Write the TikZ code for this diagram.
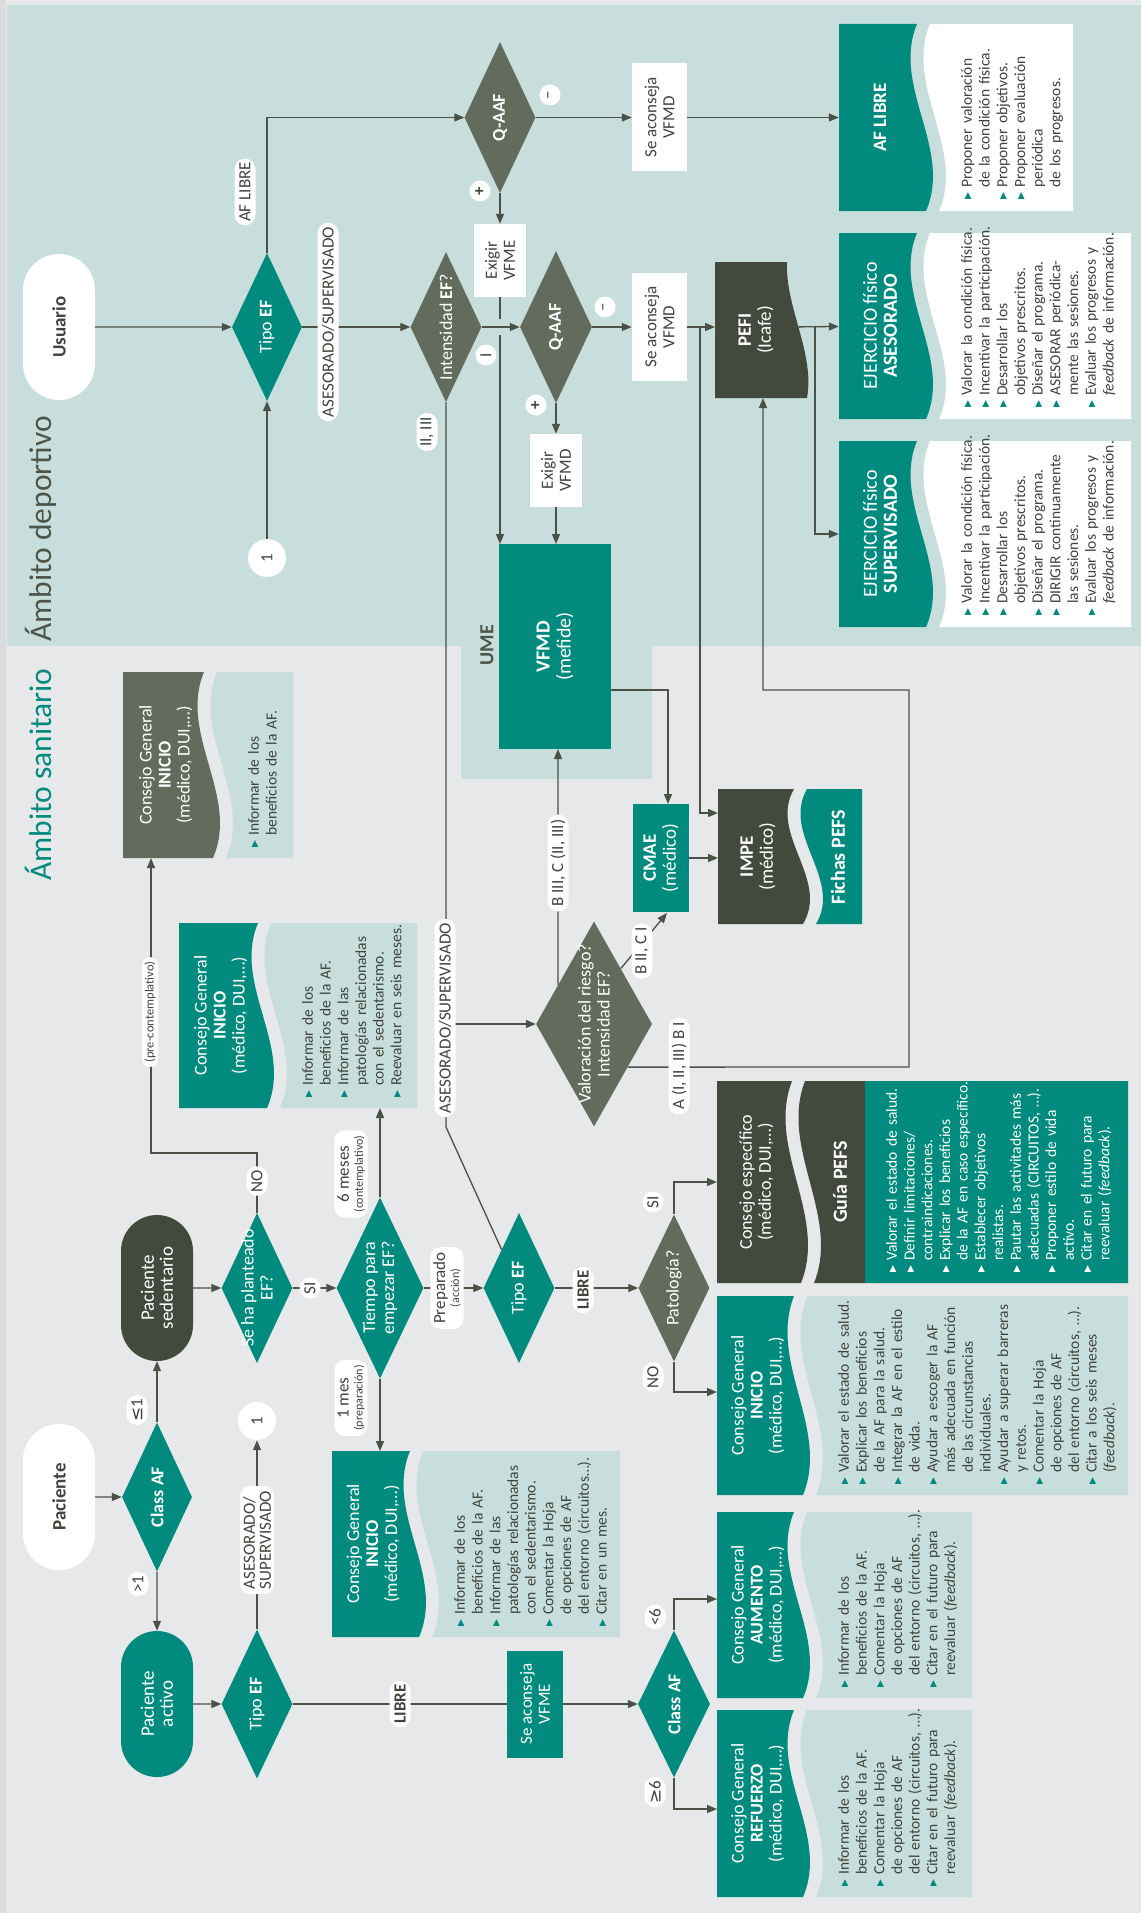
\documentclass[tikz,border=0pt]{standalone}
\usepackage{fontspec}
\setmainfont{Carlito}
\newfontfamily\symf{DejaVu Sans}
\usetikzlibrary{shapes.geometric,shapes.misc,arrows.meta,calc}
\definecolor{tealc}{HTML}{008B7E}
\definecolor{bgteal}{HTML}{C8DEDC}
\definecolor{bggray}{HTML}{E7E8EA}
\definecolor{edgegray}{HTML}{DADBDB}
\definecolor{dgreen}{HTML}{626B5C}
\definecolor{darkc}{HTML}{434A3D}
\definecolor{lnc}{HTML}{4B5146}
\definecolor{txt}{HTML}{3F453A}
\definecolor{titc}{HTML}{4D5448}
\newcommand\setfs[2]{\fontsize{#1}{#2}\selectfont}
\def\bulcol{tealc}
\newcommand\bulmark{\raisebox{1.5pt}{\textcolor{\bulcol}{\symf\fontsize{9}{9}\selectfont ▶}}}
\newcommand\bul[1]{\par\noindent\hangindent=12pt\hangafter=1\makebox[12pt][l]{\bulmark}#1\par}
\newcommand\br{\newline}
% name, x0, xw, ytop, ybot, fill, x1, bulletfill   (coordinates are (y,x) of the portrait page)
\newcommand\wavepair[8]{%
 \pgfmathsetmacro\wvh{#5-#4}%
 \pgfmathsetmacro\wvw{#3-#2}%
 \fill[#6] (#5,#2) -- (#4,#2) -- (#4,{#3-4}) .. controls ({#4+\wvh/3},{#3-30}) and ({#5-\wvh/3},{#3+32}) .. (#5,{#3+5}) -- cycle;
 \fill[#8] (#5,{#3+18}) .. controls ({#5-\wvh/3},{#3+45}) and ({#4+\wvh/3},{#3-17}) .. (#4,{#3+9}) -- (#4,#7) -- (#5,#7) -- cycle;
 \node[minimum width=\wvh pt, minimum height=\wvw pt] (#1) at ({(#4+#5)/2},{(#2+#3)/2}) {};
}
\begin{document}
\begin{tikzpicture}[x=-1pt,y=-1pt,rotate=90,transform shape,
 every node/.style={inner sep=0pt, align=center},
 arr/.style={draw=lnc, line width=1.3pt, -{Triangle[length=10pt,width=8pt]}},
 ln/.style={draw=lnc, line width=1.3pt},
 dia/.style={diamond, fill=#1},
 wtx/.style={text=white, font=\setfs{18}{19}},
 wbox/.style={rectangle, fill=white, text=txt, font=\setfs{17}{18}},
 tbox/.style={rectangle, fill=tealc, text=white, font=\setfs{17}{18}},
 lab/.style={rounded rectangle, fill=white, text=txt, inner xsep=2pt, minimum height=21pt, font=\setfs{17}{18}},
 labb/.style={rectangle, rounded corners=10pt, fill=white, text=txt, inner xsep=5pt, inner ysep=3pt, font=\setfs{17}{14}},
 btx/.style={text=txt, align=left, text width=400pt, anchor=north west, font=\setfs{15.5}{17.7}},
 pill/.style={rounded rectangle, minimum width=146pt, minimum height=72pt},
]
\useasboundingbox (0,0) rectangle (1913,1141);
% backgrounds
\fill[bggray] (0,0) rectangle (1913,1141);
\fill[edgegray] (0,0) rectangle (1913,6);
\fill[bgteal] (5,7) rectangle (646,1141);
\fill[bgteal] (640,461) rectangle (779,652);
\node[anchor=base west, font=\setfs{31.5}{32}, text=titc] (amdep) at (642,51) {Ámbito deportivo};
\node[anchor=base west, font=\setfs{31.5}{32}, text=tealc] (amsan) at (881,51) {Ámbito sanitario};

% ===== deportivo shapes =====
\node[pill, fill=white, font=\bfseries\setfs{19}{19}, text=txt] (usuario) at (327,59) {Usuario};
\node[dia=tealc, minimum width=148pt, minimum height=70pt] (tipo1) at (327,267) {};
\node[wtx] at (tipo1) {Tipo \textbf{EF}};
\node[circle, fill=white, minimum size=38pt, font=\setfs{17}{17}, text=txt] (c1a) at (558,267) {1};
\node[dia=dgreen, minimum width=151pt, minimum height=71pt] (qaaf1) at (117.5,500) {};
\node[wtx] at (qaaf1) {\textbf{Q-AAF}};
\node[wbox, minimum width=108pt, minimum height=55pt] (acons1) at (117.5,659.5) {Se aconseja\\VFMD};
\node[wbox, minimum width=73pt, minimum height=52pt] (exvfme) at (260.5,500) {Exigir\\VFME};
\node[dia=dgreen, minimum width=150pt, minimum height=71pt] (inten) at (327,446) {};
\node[wtx] at (inten) {Intensidad \textbf{EF}?};
\node[dia=dgreen, minimum width=152pt, minimum height=72pt] (qaaf2) at (327,556) {};
\node[wtx] at (qaaf2) {\textbf{Q-AAF}};
\node[wbox, minimum width=108pt, minimum height=55pt] (acons2) at (327,659.5) {Se aconseja\\VFMD};
\node[wbox, minimum width=73pt, minimum height=52pt] (exvfmd) at (470.5,556) {Exigir\\VFMD};
\fill[darkc] (398,715) -- (262,715) -- (262,787) .. controls (307,785) and (353,815) .. (398,807) -- cycle;
\node[minimum width=136pt, minimum height=82pt] (pefi) at (330,756) {};
\node[wtx, font=\setfs{19}{20}] at (pefi) {\textbf{PEFI}\\(Icafe)};
\node[rectangle, fill=tealc, minimum width=205pt, minimum height=112pt] (vfmd) at (646.5,555) {};
\node[wtx, font=\setfs{20}{21}] at (vfmd) {\textbf{VFMD}\\(mefide)};
\node[font=\bfseries\setfs{20}{20}, text=titc] (ume) at (645,487) {UME};
\node[rectangle, fill=tealc, minimum width=108pt, minimum height=56pt] (cmae) at (858,661) {};
\node[wtx, font=\setfs{19}{20}] at (cmae) {\textbf{CMAE}\\(médico)};
\wavepair{impe}{718}{798}{789}{924}{darkc}{862}{tealc}
\node[wtx, font=\setfs{19}{20}] at (impe) {\textbf{IMPE}\\(médico)};
\node[wtx, font=\bfseries\setfs{20}{20}] (fichas) at (857,838) {Fichas PEFS};

\wavepair{afl}{839}{921}{24}{211}{tealc}{1073}{white}
\node[wtx, font=\setfs{19}{20}] at (afl) {\textbf{AF LIBRE}};
\wavepair{ases}{839}{921}{233}{419}{tealc}{1131}{white}
\node[wtx, font=\setfs{20}{20}] at (ases) {EJERCICIO físico\\\textbf{ASESORADO}};
\wavepair{superv}{839}{921}{441}{627}{tealc}{1131}{white}
\node[wtx, font=\setfs{20}{20}] at (superv) {EJERCICIO físico\\\textbf{SUPERVISADO}};

% ===== sanitario shapes =====
\wavepair{precont}{123}{208}{672}{858}{dgreen}{293}{bgteal}
\node[wtx] at (precont) {Consejo General\\\textbf{INICIO}\\(médico, DUI,…)};
\wavepair{ini6}{179}{262}{923}{1108}{tealc}{417}{bgteal}
\node[wtx] at (ini6) {Consejo General\\\textbf{INICIO}\\(médico, DUI,…)};
\wavepair{ini1}{332}{414}{1451}{1637}{tealc}{620}{bgteal}
\node[wtx] at (ini1) {Consejo General\\\textbf{INICIO}\\(médico, DUI,…)};
\wavepair{inino}{717}{798}{1296}{1495}{tealc}{1128}{bgteal}
\node[wtx] at (inino) {Consejo General\\\textbf{INICIO}\\(médico, DUI,…)};
\wavepair{aum}{717}{798}{1512}{1698}{tealc}{972}{bgteal}
\node[wtx] at (aum) {Consejo General\\\textbf{AUMENTO}\\(médico, DUI,…)};
\wavepair{ref}{717}{798}{1710}{1897}{tealc}{972}{bgteal}
\node[wtx] at (ref) {Consejo General\\\textbf{REFUERZO}\\(médico, DUI,…)};
\wavepair{esp}{717}{796}{1081}{1283}{darkc}{1128}{darkc}
\fill[tealc] (1081,865) rectangle (1283,1128);
\node[wtx] at (esp) {Consejo específico\\(médico, DUI,…)};
\node[wtx, font=\bfseries\setfs{20}{20}] (guia) at (1182,840) {Guía PEFS};

\node[pill, fill=darkc, text=white, font=\setfs{19}{19}] (pacsed) at (1288,157) {Paciente\\sedentario};
\node[dia=tealc, minimum width=150pt, minimum height=71pt] (seha) at (1288,257) {};
\node[wtx] at (seha) {Se ha planteado\\EF?};
\node[dia=tealc, minimum width=181pt, minimum height=87pt] (tiempo) at (1288,380) {};
\node[wtx] at (tiempo) {Tiempo para\\empezar EF?};
\node[dia=tealc, minimum width=150pt, minimum height=71pt] (tipo2) at (1288,519) {};
\node[wtx] at (tipo2) {Tipo \textbf{EF}};
\node[dia=dgreen, minimum width=205pt, minimum height=116pt] (valor) at (1024,594) {};
\node[wtx] at (valor) {Valoración del riesgo?\\Intensidad EF?};
\node[dia=dgreen, minimum width=147pt, minimum height=71pt] (patol) at (1288,674) {};
\node[wtx] at (patol) {Patología?};
\node[pill, fill=white, text=txt, font=\bfseries\setfs{19}{19}] (paciente) at (1497,59) {Paciente};
\node[dia=tealc, minimum width=149pt, minimum height=70pt] (class1) at (1497,157) {};
\node[wtx] at (class1) {\textbf{Class AF}};
\node[pill, fill=tealc, text=white, font=\setfs{19}{19}] (pacact) at (1704,157) {Paciente\\activo};
\node[dia=tealc, minimum width=149pt, minimum height=71pt] (tipo3) at (1704,257) {};
\node[wtx] at (tipo3) {Tipo \textbf{EF}};
\node[circle, fill=white, minimum size=38pt, font=\setfs{17}{17}, text=txt] (c1b) at (1421,257) {1};
\node[tbox, minimum width=107pt, minimum height=56pt] (aconsvfme) at (1704,535) {Se aconseja\\VFME};
\node[dia=tealc, minimum width=147pt, minimum height=72pt] (class2) at (1704,674) {};
\node[wtx] at (class2) {\textbf{Class AF}};

% ===== connectors =====
\draw[arr] (usuario) -- (tipo1);
\draw[arr] (tipo1.east) -| (qaaf1.north);
\draw[arr] (c1a) -- (tipo1.west);
\draw[arr] (qaaf1) -- (acons1);
\draw[arr] (acons1) -- (afl);
\draw[arr] (qaaf1.west) -- (exvfme);
\draw[arr] (exvfme) -- (544,500);
\draw[line width=6pt, bgteal] (319,500) -- (335,500);
\draw[arr] (tipo1) -- (inten);
\draw[arr] (inten) -- (qaaf2);
\draw[arr] (qaaf2) -- (acons2);
\draw[arr] (qaaf2.west) -- (exvfmd);
\draw[arr] (exvfmd) -- (544,556);
\draw[arr] (acons2) -- (327,715);
\draw[arr] (327,700) -- (813,700) -- (813,718);
\draw[arr] (327,790) -- (ases);
\draw[arr] (327,815) -- (534,815) -- (superv);
\draw[arr] (690,611) -- (690,668) -- (804,668);
\draw[arr] (cmae) -- (858,718);
\draw[arr] ($(valor.north)!0.38!(valor.east)$) -- (749,558);
\draw[arr] ($(valor.east)!0.46!(valor.south)$) -- (913,667);
\draw[arr] ($(valor.south)!0.42!(valor.west)$) -- (1067,909) -- (690,909) -- (690,763) -- (398,763);
\draw[ln] (inten.west) -- (1127,446) -- (tipo2);
\draw[arr] (1024,446) -- (valor.north);

\draw[arr] (pacsed) -- (seha);
\draw[arr] (seha) -- (tiempo);
\draw[arr] (tiempo) -- (tipo2);
\draw[arr] (tipo2) -- (patol);
\draw[arr] (seha.east) -- (1153,257) -- (1153,151) -- (858,151);
\draw[arr] (tiempo.east) -- (1108,380);
\draw[arr] (tiempo.west) -- (1451,380);
\draw[arr] (patol.east) -- (1182,674) -- (1182,717);
\draw[arr] (patol.west) -- (1392,674) -- (1392,717);
\draw[arr] (class1.east) -- (pacsed);
\draw[arr] (paciente) -- (class1);
\draw[arr] (class1) -- (pacact);
\draw[arr] (pacact) -- (tipo3);
\draw[arr] (tipo3) -- (c1b);
\draw[ln] (tipo3) -- (aconsvfme);
\draw[arr] (aconsvfme) -- (class2);
\draw[arr] (class2.east) -- (1599,674) -- (1599,717);
\draw[arr] (class2.west) -- (1809,674) -- (1809,717);

% ===== labels =====
\node[lab] at (192,245) {AF LIBRE};
\node[lab] at (322,328) {ASESORADO/SUPERVISADO};
\node[lab, minimum width=25pt] at (95,550) {–};
\node[lab, minimum width=25pt] at (191,480) {\textbf{+}};
\node[lab, minimum width=25pt] at (307,605) {–};
\node[lab, minimum width=25pt] at (405,536) {\textbf{+}};
\node[lab, minimum width=25pt] at (355,486) {I};
\node[lab] at (432,427) {II, III};
\node[lab] at (1018,445) {ASESORADO/SUPERVISADO};
\node[lab] at (863,558) {B III, C (II, III)};
\node[lab] at (951,642) {B II, C I};
\node[lab] at (1066,679) {A (I, II, III) B I};
\node[lab, font=\setfs{12.5}{12.5}, minimum height=16pt] at (1012,150) {(pre-contemplativo)};
\node[lab] at (1181,257) {NO};
\node[lab] at (1288,310) {SI};
\node[labb] at (1174,351) {6 meses\\{\setfs{12}{12}(contemplativo)}};
\node[labb] at (1288,447) {Preparado\\{\setfs{12}{12}(acción)}};
\node[labb] at (1398,351) {1 mes\\{\setfs{12}{12}(preparación)}};
\node[lab, font=\bfseries\setfs{17}{18}] at (1290,583) {LIBRE};
\node[lab] at (1202,653) {SI};
\node[lab] at (1377,653) {NO};
\node[lab] at (1410,137) {{\symf ≤}1};
\node[lab] at (1584,138) {>1};
\node[labb, align=left, font=\setfs{17}{16}] at (1540,257) {ASESORADO/\\SUPERVISADO};
\node[lab, font=\bfseries\setfs{17}{18}] at (1704,400) {LIBRE};
\node[lab] at (1617,655) {<6};
\node[lab] at (1792,655) {{\symf ≥}6};

% ===== bullet texts =====
\node[btx] at (200,954) {\bul{Proponer valoración\br de la condición física.}\bul{Proponer objetivos.}\bul{Proponer evaluación\br periódica\br de los progresos.}};
\node[btx] at (408,954) {\bul{Valorar la condición física.}\bul{Incentivar la participación.}\bul{Desarrollar los\br objetivos prescritos.}\bul{Diseñar el programa.}\bul{ASESORAR periódica-\br mente las sesiones.}\bul{Evaluar los progresos y\br \textit{feedback} de información.}};
\node[btx] at (616,954) {\bul{Valorar la condición física.}\bul{Incentivar la participación.}\bul{Desarrollar los\br objetivos prescritos.}\bul{Diseñar el programa.}\bul{DIRIGIR continuamente\br las sesiones.}\bul{Evaluar los progresos y\br \textit{feedback} de información.}};
\node[btx] at (848,241) {\bul{Informar de los\br beneficios de la AF.}};
\node[btx] at (1098,295) {\bul{Informar de los\br beneficios de la AF.}\bul{Informar de las\br patologías relacionadas\br con el sedentarismo.}\bul{Reevaluar en seis meses.}};
\node[btx] at (1627,447) {\bul{Informar de los\br beneficios de la AF.}\bul{Informar de las\br patologías relacionadas\br con el sedentarismo.}\bul{Comentar la Hoja\br de opciones de AF\br del entorno (circuitos…).}\bul{Citar en un mes.}};
\node[btx] at (1485,831) {\bul{Valorar el estado de salud.}\bul{Explicar los beneficios\br de la AF para la salud.}\bul{Integrar la AF en el estilo\br de vida.}\bul{Ayudar a escoger la AF\br más adecuada en función\br de las circunstancias\br individuales.}\bul{Ayudar a superar barreras\br y retos.}\bul{Comentar la Hoja\br de opciones de AF\br del entorno (circuitos, …).}\bul{Citar a los seis meses\br (\textit{feedback}).}};
\node[btx, text=white] at (1273,879) {\def\bulcol{white}\bul{Valorar el estado de salud.}\bul{Definir limitaciones/\br contraindicaciones.}\bul{Explicar los beneficios\br de la AF en caso específico.}\bul{Establecer objetivos\br realistas.}\bul{Pautar las activitades más\br adecuadas (CIRCUITOS, …).}\bul{Proponer estilo de vida\br activo.}\bul{Citar en el futuro para\br reevaluar (\textit{feedback}).}};
\node[btx] at (1688,831) {\bul{Informar de los\br beneficios de la AF.}\bul{Comentar la Hoja\br de opciones de AF\br del entorno (circuitos, …).}\bul{Citar en el futuro para\br reevaluar (\textit{feedback}).}};
\node[btx] at (1887,831) {\bul{Informar de los\br beneficios de la AF.}\bul{Comentar la Hoja\br de opciones de AF\br del entorno (circuitos, …).}\bul{Citar en el futuro para\br reevaluar (\textit{feedback}).}};
\end{tikzpicture}
\end{document}
